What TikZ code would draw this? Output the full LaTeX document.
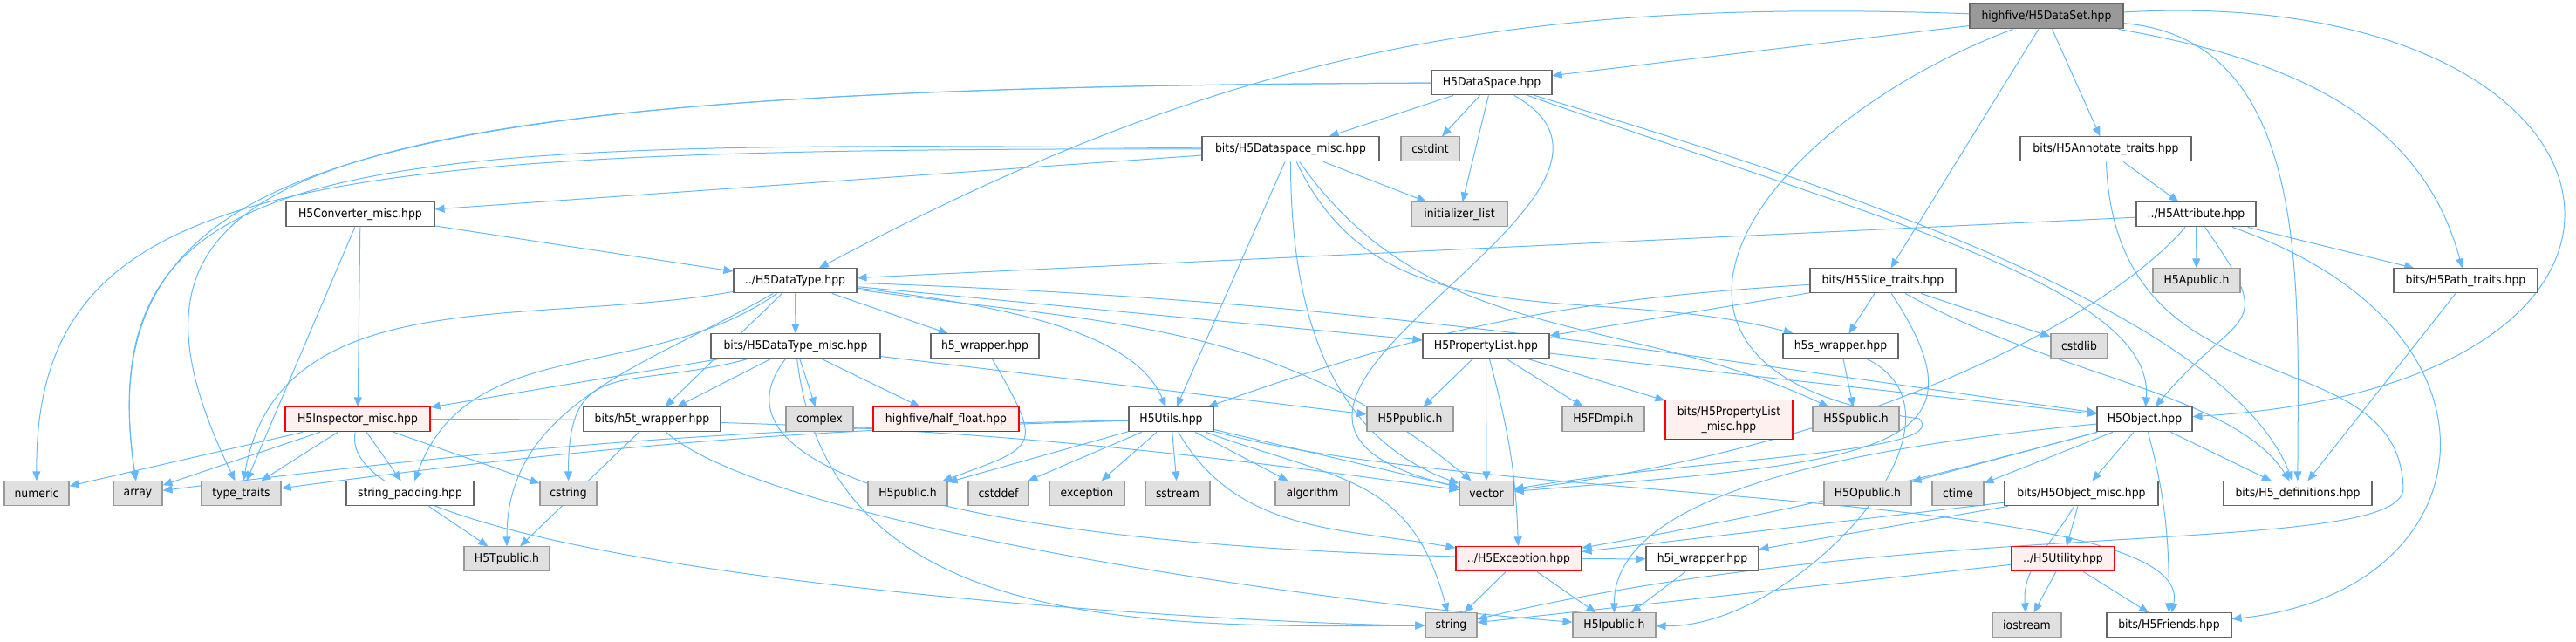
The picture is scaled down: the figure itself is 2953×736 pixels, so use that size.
\documentclass[tikz,border=0pt]{standalone}
\usepackage{fontspec}
\setmainfont{DejaVu Sans}[FakeStretch=0.92]
\usetikzlibrary{arrows.meta}
\definecolor{edgecol}{HTML}{63B8FF}
\definecolor{bordgray}{HTML}{666666}
\definecolor{sysfill}{HTML}{E0E0E0}
\definecolor{sysbord}{HTML}{999999}
\definecolor{redfill}{HTML}{FFF0F0}
\definecolor{redbord}{HTML}{FF0000}
\definecolor{rootfill}{HTML}{999999}
\newcommand\dxfont{\fontsize{0.675}{0.85}\selectfont}
\pgfdeclarelayer{edgelayer}
\pgfsetlayers{edgelayer,main}
\tikzset{
  box/.style={draw, line width=0.055pt, inner sep=0pt, minimum height=1.4pt, font=\dxfont},
  bw/.style={minimum width=#1*0.05pt},
  nrmbox/.style={box, draw=bordgray, fill=white},
  sysbox/.style={box, draw=sysbord, fill=sysfill},
  redbox/.style={box, draw=redbord, fill=redfill},
  rootbox/.style={box, draw=bordgray, fill=rootfill},
  dep/.style={draw=edgecol, line width=0.05pt, -{Triangle[length=0.55pt,width=0.45pt]}}
}
\begin{document}
\begin{tikzpicture}[x=0.05pt,y=0.05pt]
\useasboundingbox (0,0) rectangle (2953,-736);
% row 1
\node[rootbox, bw=176] (dataset) at (2346,-19) {highfive/H5DataSet.hpp};
% row 2
\node[nrmbox, bw=138] (dataspace) at (1710,-95) {H5DataSpace.hpp};
% row 3
\node[nrmbox, bw=203] (dspmisc) at (1479.5,-171) {bits/H5Dataspace\_misc.hpp};
\node[sysbox, bw=67] (cstdint) at (1639.5,-171) {cstdint};
\node[nrmbox, bw=196] (annot) at (2414,-171) {bits/H5Annotate\_traits.hpp};
% row 4
\node[nrmbox, bw=170] (convmisc) at (413,-246) {H5Converter\_misc.hpp};
\node[sysbox, bw=110] (initlist) at (1673,-246) {initializer\_list};
\node[nrmbox, bw=137] (attr) at (2517.5,-246) {../H5Attribute.hpp};
% row 5
\node[nrmbox, bw=141] (datatype) at (911.5,-322) {../H5DataType.hpp};
\node[nrmbox, bw=167] (slice) at (2158.5,-322) {bits/H5Slice\_traits.hpp};
\node[sysbox, bw=100] (apublic) at (2518,-322) {H5Apublic.h};
\node[nrmbox, bw=165] (path) at (2826.5,-322) {bits/H5Path\_traits.hpp};
% row 6
\node[nrmbox, bw=194] (dtmisc) at (912,-397) {bits/H5DataType\_misc.hpp};
\node[nrmbox, bw=124] (h5wrap) at (1129,-397) {h5\_wrapper.hpp};
\node[nrmbox, bw=145] (plist) at (1703.5,-397) {H5PropertyList.hpp};
\node[nrmbox, bw=132] (h5swrap) at (2110,-397) {h5s\_wrapper.hpp};
\node[sysbox, bw=65] (cstdlib) at (2383.5,-397) {cstdlib};
% row 7
\node[redbox, bw=166] (insp) at (410,-481) {H5Inspector\_misc.hpp};
\node[nrmbox, bw=157] (h5twrap) at (747.5,-481) {bits/h5t\_wrapper.hpp};
\node[sysbox, bw=77] (complex) at (939.5,-481) {complex};
\node[redbox, bw=167] (halffloat) at (1084.5,-481) {highfive/half\_float.hpp};
\node[nrmbox, bw=97] (utils) at (1342.5,-481) {H5Utils.hpp};
\node[sysbox, bw=99] (ppublic) at (1616.5,-481) {H5Ppublic.h};
\node[sysbox, bw=94] (fdmpi) at (1838,-481) {H5FDmpi.h};
\node[redbox, bw=146, minimum height=2.25pt, align=center] (plmisc) at (1982,-481.5) {bits/H5PropertyList\\\_misc.hpp};
\node[sysbox, bw=99] (spublic) at (2127.5,-481) {H5Spublic.h};
\node[nrmbox, bw=109] (object) at (2458.5,-481) {H5Object.hpp};
% row 8
\node[sysbox, bw=74] (numeric) at (42,-566) {numeric};
\node[sysbox, bw=56] (array) at (158,-566) {array};
\node[sysbox, bw=91] (typetraits) at (276.5,-566) {type\_traits};
\node[nrmbox, bw=146] (strpad) at (470,-566) {string\_padding.hpp};
\node[sysbox, bw=65] (cstring) at (651.5,-566) {cstring};
\node[sysbox, bw=91] (h5public) at (1040.5,-566) {H5public.h};
\node[sysbox, bw=69] (cstddef) at (1144.5,-566) {cstddef};
\node[sysbox, bw=86] (exception) at (1246,-566) {exception};
\node[sysbox, bw=74] (sstream) at (1350,-566) {sstream};
\node[sysbox, bw=85] (algorithm) at (1504.5,-566) {algorithm};
\node[sysbox, bw=62] (vector) at (1704,-566) {vector};
\node[sysbox, bw=100] (opublic) at (2141,-566) {H5Opublic.h};
\node[sysbox, bw=59] (ctime) at (2244.5,-566) {ctime};
\node[nrmbox, bw=176] (objmisc) at (2386,-566) {bits/H5Object\_misc.hpp};
\node[nrmbox, bw=170] (defs) at (2634,-566) {bits/H5\_definitions.hpp};
% row 9
\node[sysbox, bw=98] (tpublic) at (581,-641) {H5Tpublic.h};
\node[redbox, bw=144] (exc) at (1741,-641) {../H5Exception.hpp};
\node[nrmbox, bw=129] (h5iwrap) at (1951.5,-641) {h5i\_wrapper.hpp};
\node[redbox, bw=118] (utility) at (2365,-641) {../H5Utility.hpp};
% row 10
\node[sysbox, bw=59] (string) at (1663.5,-717) {string};
\node[sysbox, bw=95] (ipublic) at (1850.5,-717) {H5Ipublic.h};
\node[sysbox, bw=79] (iostream) at (2323.5,-717) {iostream};
\node[nrmbox, bw=143] (friends) at (2486.5,-717) {bits/H5Friends.hpp};
\coordinate (annotvia) at (2755,-560);
\coordinate (dsvia) at (2200,-480);

\begin{pgfonlayer}{edgelayer}
% dataset
\draw[dep] (dataset) -- (dataspace);
\draw[dep] (dataset) to[out=178,in=28] (datatype);
\draw[dep] (dataset) .. controls (3040,20) and (3140,-440) .. (object);
\draw[dep] (dataset) to[out=-5,in=90] (defs);
\draw[dep] (dataset) -- (annot);
\draw[dep] (dataset) -- (slice);
\draw[dep] (dataset) to[out=-10,in=105] (path);
\draw[dep] (dataset) .. controls (2000,-150) and (1820,-430) .. (dsvia) .. controls (2240,-520) and (1950,-525) .. (vector);
% dataspace
\draw[dep] (dataspace) -- (dspmisc);
\draw[dep] (dataspace) -- (cstdint);
\draw[dep] (dataspace) -- (initlist);
\draw[dep] (dataspace) .. controls (1950,-230) and (1300,-470) .. (vector);
\draw[dep] (dataspace) .. controls (400,-100) and (100,-180) .. (array);
\draw[dep] (dataspace) .. controls (300,-100) and (100,-200) .. (typetraits);
\draw[dep] (dataspace) .. controls (2150,-250) and (2470,-330) .. (object);
\draw[dep] (dataspace) .. controls (2200,-240) and (2560,-380) .. (defs);
% dspmisc
\draw[dep] (dspmisc) .. controls (400,-160) and (100,-170) .. (array);
\draw[dep] (dspmisc) .. controls (350,-170) and (40,-200) .. (numeric);
\draw[dep] (dspmisc) -- (initlist);
\draw[dep] (dspmisc) to[out=-90,in=160] (vector);
\draw[dep] (dspmisc) to[out=-55,in=155] (spublic);
\draw[dep] (dspmisc) -- (utils);
\draw[dep] (dspmisc) -- (convmisc);
\draw[dep] (dspmisc) to[out=-65,in=165] (h5swrap);
% convmisc
\draw[dep] (convmisc) -- (typetraits);
\draw[dep] (convmisc) -- (insp);
\draw[dep] (convmisc) -- (datatype);
% insp
\draw[dep] (insp) -- (numeric);
\draw[dep] (insp) -- (array);
\draw[dep] (insp) -- (typetraits);
\draw[dep] (insp) -- (strpad);
\draw[dep] (insp) -- (cstring);
\draw[dep] (insp) to[bend left=4] (vector);
\draw[dep] (insp) .. controls (375,-663) and (1463,-717) .. (string);
\draw[dep] (strpad) -- (tpublic);
% datatype
\draw[dep] (datatype) to[out=190,in=80] (typetraits);
\draw[dep] (datatype) to[out=-8,in=140] (vector);
\draw[dep] (datatype) to[out=-150,in=90] (tpublic);
\draw[dep] (datatype) to[out=-2,in=172] (object);
\draw[dep] (datatype) .. controls (1150,-350) and (1300,-380) .. (utils);
\draw[dep] (datatype) to[out=-145,in=70] (strpad);
\draw[dep] (datatype) -- (plist);
\draw[dep] (datatype) -- (h5wrap);
\draw[dep] (datatype) -- (h5twrap);
\draw[dep] (datatype) -- (dtmisc);
% dtmisc
\draw[dep] (dtmisc) .. controls (950,-720) and (1300,-720) .. (string);
\draw[dep] (dtmisc) -- (complex);
\draw[dep] (dtmisc) to[out=195,in=90,looseness=1.5] (cstring);
\draw[dep] (dtmisc) -- (halffloat);
\draw[dep] (dtmisc) -- (ppublic);
\draw[dep] (dtmisc) -- (insp);
\draw[dep] (dtmisc) -- (h5twrap);
\draw[dep] (dtmisc) .. controls (800,-540) and (1100,-640) .. (h5iwrap);
% h5twrap, h5wrap
\draw[dep] (h5twrap) -- (tpublic);
\draw[dep] (h5twrap) .. controls (880,-600) and (1500,-690) .. (ipublic);
\draw[dep] (h5wrap) to[out=-60,in=20,looseness=2] (h5public);
% utils
\draw[dep] (utils) -- (algorithm);
\draw[dep] (utils) to[bend right=3] (array);
\draw[dep] (utils) -- (cstddef);
\draw[dep] (utils) -- (exception);
\draw[dep] (utils) to[out=-20,in=105,looseness=1.2] (string);
\draw[dep] (utils) to[bend right=3] (typetraits);
\draw[dep] (utils) -- (vector);
\draw[dep] (utils) -- (sstream);
\draw[dep] (utils) -- (h5public);
\draw[dep] (utils) to[out=-60,in=170] (exc);
\draw[dep] (utils) .. controls (1700,-580) and (2520,-560) .. (friends);
% plist
\draw[dep] (plist) -- (vector);
\draw[dep] (plist) -- (ppublic);
\draw[dep] (plist) -- (fdmpi);
\draw[dep] (plist) to[out=-75,in=92] (exc);
\draw[dep] (plist) -- (object);
\draw[dep] (plist) -- (plmisc);
% exc, h5iwrap
\draw[dep] (exc) -- (string);
\draw[dep] (exc) -- (ipublic);
\draw[dep] (h5iwrap) -- (ipublic);
% slice
\draw[dep] (slice) -- (cstdlib);
\draw[dep] (slice) .. controls (2290,-520) and (2150,-530) .. (vector);
\draw[dep] (slice) .. controls (2350,-430) and (2560,-450) .. (defs);
\draw[dep] (slice) to[bend right=8] (utils);
\draw[dep] (slice) -- (plist);
\draw[dep] (slice) -- (h5swrap);
% h5swrap
\draw[dep] (h5swrap) -- (spublic);
\draw[dep] (h5swrap) .. controls (2280,-480) and (2060,-720) .. (ipublic);
% object
\draw[dep] (object) -- (ctime);
\draw[dep] (object) .. controls (2150,-510) and (1850,-560) .. (ipublic);
\draw[dep] (object) -- (opublic);
\draw[dep] (object) -- (defs);
\draw[dep] (object) to[out=-75,in=90] (friends);
\draw[dep] (object) to[out=195,in=10] (exc);
\draw[dep] (object) -- (objmisc);
% objmisc
\draw[dep] (objmisc) to[out=-120,in=95] (iostream);
\draw[dep] (objmisc) -- (exc);
\draw[dep] (objmisc) -- (utility);
\draw[dep] (objmisc) -- (h5iwrap);
% utility
\draw[dep] (utility) -- (string);
\draw[dep] (utility) -- (iostream);
\draw[dep] (utility) -- (friends);
% annot
\draw[dep] (annot) -- (attr);
\draw[dep] (annot) .. controls (2425,-480) and (2750,-380) .. (annotvia) .. controls (2755,-640) and (2200,-590) .. (string);
% attr
\draw[dep] (attr) .. controls (2420,-360) and (2150,-510) .. (vector);
\draw[dep] (attr) -- (apublic);
\draw[dep] (attr) -- (datatype);
\draw[dep] (attr) to[out=-55,in=50,looseness=1.8] (object);
\draw[dep] (attr) .. controls (2900,-380) and (2850,-680) .. (friends);
\draw[dep] (attr) -- (path);
% path
\draw[dep] (path) -- (defs);
\end{pgfonlayer}
\end{tikzpicture}
\end{document}
